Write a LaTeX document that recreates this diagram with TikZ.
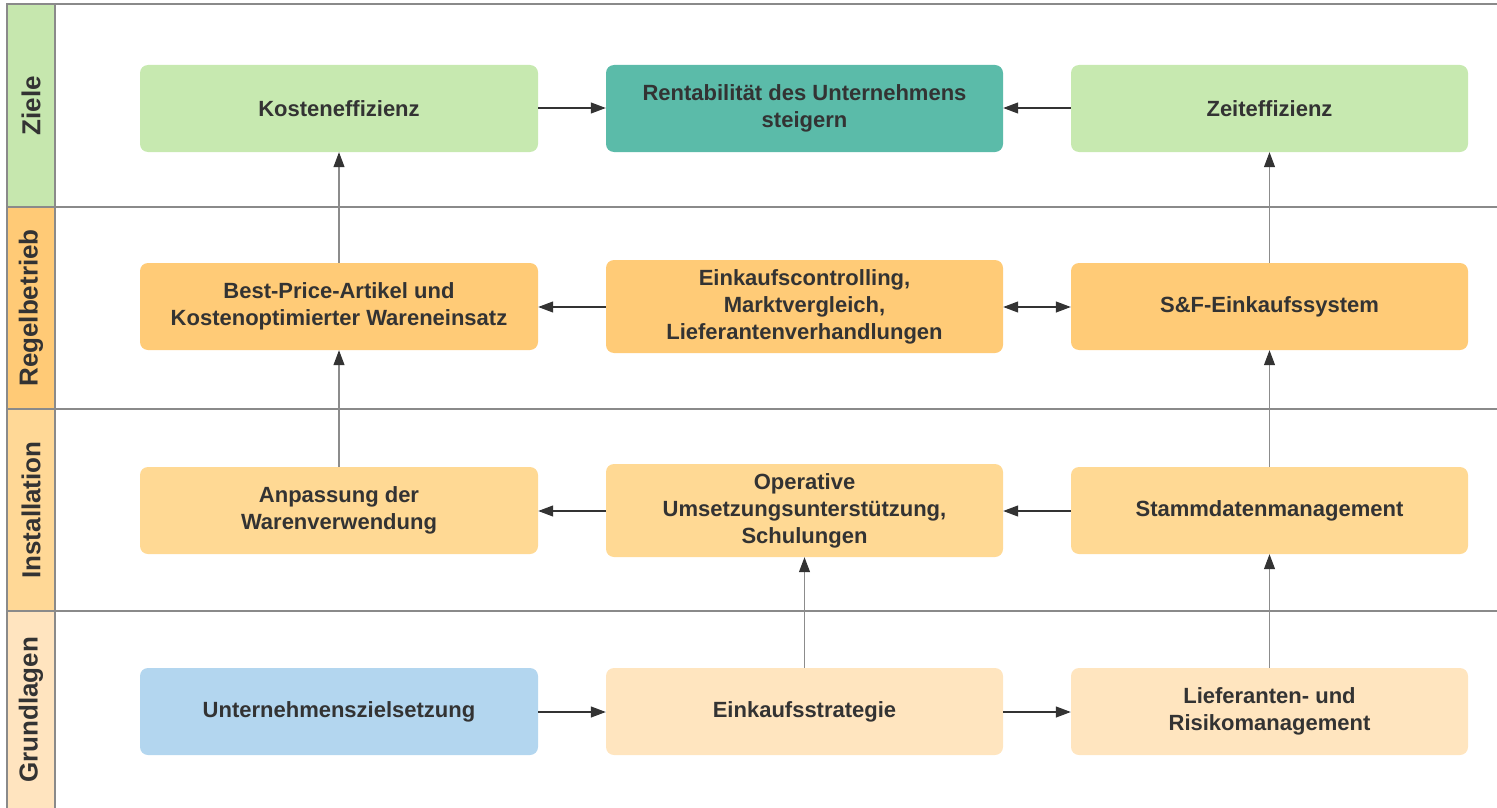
\documentclass[tikz,border=0pt]{standalone}
\usepackage{fontspec}
\setmainfont{Liberation Sans}
\usetikzlibrary{arrows.meta}
\definecolor{txt}{HTML}{333333}
\definecolor{frame}{HTML}{8A8A8A}
\definecolor{goalbg}{HTML}{C6E7AE}
\definecolor{runbg}{HTML}{FFCA76}
\definecolor{instbg}{HTML}{FFD896}
\definecolor{basebg}{HTML}{FFE4BF}
\definecolor{goalbox}{HTML}{C7E9B0}
\definecolor{mainbox}{HTML}{5BBBA9}
\definecolor{runbox}{HTML}{FFCB77}
\definecolor{instbox}{HTML}{FFD994}
\definecolor{basebox}{HTML}{FFE5BF}
\definecolor{startbox}{HTML}{B3D6EF}
\definecolor{arr}{HTML}{333333}
\definecolor{varr}{HTML}{8C8C8C}
\tikzset{
  card/.style={rectangle, rounded corners=8pt, draw=none, inner sep=0pt,
    minimum width=398pt, minimum height=87pt, align=center, text=txt,
    font=\fontsize{22}{27}\selectfont\bfseries},
  tallcard/.style={card, minimum height=93pt},
  lanelabel/.style={rotate=90, text=txt, font=\fontsize{26}{30}\selectfont\bfseries},
  harrow/.style={draw=arr, line width=1.2pt, -{Triangle[length=15pt,width=11pt]}},
  darrow/.style={draw=arr, line width=1.2pt, {Triangle[length=15pt,width=11pt]}-{Triangle[length=15pt,width=11pt]}},
  varrow/.style={draw=varr, line width=1.1pt, -{Triangle[length=15pt,width=11pt,color=arr]}},
}
\begin{document}
\begin{tikzpicture}[x=1pt,y=-1pt]
\useasboundingbox (0,0) rectangle (1497,808);
% swimlane label column
\fill[goalbg] (7,4) rectangle (55,207);
\fill[runbg]  (7,207) rectangle (55,409);
\fill[instbg] (7,409) rectangle (55,611);
\fill[basebg] (7,611) rectangle (55,808);
\node[lanelabel] (lz) at (31,105.5) {Ziele};
\node[lanelabel] (lr) at (31,308) {Regelbetrieb};
\node[lanelabel] (li) at (31,510) {Installation};
\node[lanelabel] (lg) at (31,710) {Grundlagen};
% lane frame
\draw[frame, line width=1.5pt] (1497,4) -- (7,4) -- (7,808);
\draw[frame, line width=1.5pt] (55,4) -- (55,808);
\draw[frame, line width=1.2pt] (7,207) -- (1497,207);
\draw[frame, line width=1.2pt] (7,409) -- (1497,409);
\draw[frame, line width=1.2pt] (7,611) -- (1497,611);
% Ziele
\node[card, fill=goalbox] (kost) at (339,108.5) {Kosteneffizienz};
\node[card, fill=mainbox, minimum width=397pt] (rent) at (804.5,108.5) {Rentabilität des Unternehmens\\steigern};
\node[card, fill=goalbox, minimum width=397pt] (zeit) at (1269.5,108.5) {Zeiteffizienz};
% Regelbetrieb
\node[card, fill=runbox] (best) at (339,306.5) {Best-Price-Artikel und\\Kostenoptimierter Wareneinsatz};
\node[tallcard, fill=runbox, minimum width=397pt] (ctrl) at (804.5,306.5) {Einkaufscontrolling,\\Marktvergleich,\\Lieferantenverhandlungen};
\node[card, fill=runbox, minimum width=397pt] (sf) at (1269.5,306.5) {S\&F-Einkaufssystem};
% Installation
\node[card, fill=instbox] (anp) at (339,510.5) {Anpassung der\\Warenverwendung};
\node[tallcard, fill=instbox, minimum width=397pt] (oper) at (804.5,510.5) {Operative\\Umsetzungsunterstützung,\\Schulungen};
\node[card, fill=instbox, minimum width=397pt] (stamm) at (1269.5,510.5) {Stammdatenmanagement};
% Grundlagen
\node[card, fill=startbox] (unt) at (339,711.5) {Unternehmenszielsetzung};
\node[card, fill=basebox, minimum width=397pt] (strat) at (804.5,711.5) {Einkaufsstrategie};
\node[card, fill=basebox, minimum width=397pt] (lief) at (1269.5,711.5) {Lieferanten- und\\Risikomanagement};
% horizontal connectors
\draw[harrow] (kost.east |- 0,108) -- (rent.west |- 0,108);
\draw[harrow] (zeit.west |- 0,108) -- (rent.east |- 0,108);
\draw[harrow] (ctrl.west |- 0,307) -- (best.east |- 0,307);
\draw[darrow] (ctrl.east |- 0,307) -- (sf.west |- 0,307);
\draw[harrow] (oper.west |- 0,511) -- (anp.east |- 0,511);
\draw[harrow] (stamm.west |- 0,511) -- (oper.east |- 0,511);
\draw[harrow] (unt.east |- 0,712) -- (strat.west |- 0,712);
\draw[harrow] (strat.east |- 0,712) -- (lief.west |- 0,712);
% vertical connectors
\draw[varrow] (best.north) -- (kost.south);
\draw[varrow] (anp.north) -- (best.south);
\draw[varrow] (sf.north) -- (zeit.south);
\draw[varrow] (stamm.north) -- (sf.south);
\draw[varrow] (strat.north) -- (oper.south);
\draw[varrow] (lief.north) -- (stamm.south);
\end{tikzpicture}
\end{document}
